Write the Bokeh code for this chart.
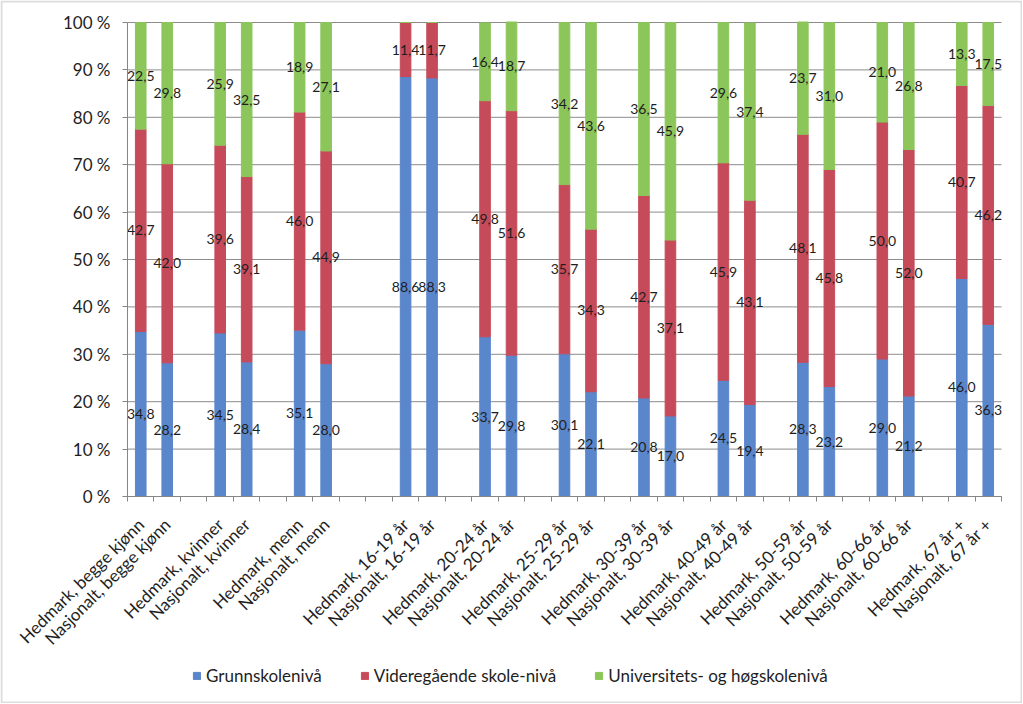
import math
from bokeh.plotting import figure
from bokeh.models import (ColumnDataSource, FixedTicker, Range1d, PrintfTickFormatter,
                          Legend, LegendItem, BoxAnnotation)
from bokeh.core.properties import value
from bokeh.embed import file_html
from bokeh.resources import INLINE

# ---------------- data ----------------
groups = ["begge kjønn", "kvinner", "menn", "16-19 år", "20-24 år", "25-29 år",
          "30-39 år", "40-49 år", "50-59 år", "60-66 år", "67 år +"]
regions = ["Hedmark", "Nasjonalt"]
categories = [f"{r}, {g}" for g in groups for r in regions]

grunnskole = [34.8, 28.2, 34.5, 28.4, 35.1, 28.0, 88.6, 88.3, 33.7, 29.8, 30.1,
              22.1, 20.8, 17.0, 24.5, 19.4, 28.3, 23.2, 29.0, 21.2, 46.0, 36.3]
videregaende = [42.7, 42.0, 39.6, 39.1, 46.0, 44.9, 11.4, 11.7, 49.8, 51.6, 35.7,
                34.3, 42.7, 37.1, 45.9, 43.1, 48.1, 45.8, 50.0, 52.0, 40.7, 46.2]
universitet = [22.5, 29.8, 25.9, 32.5, 18.9, 27.1, 0.0, 0.0, 16.4, 18.7, 34.2,
               43.6, 36.5, 45.9, 29.6, 37.4, 23.7, 31.0, 21.0, 26.8, 13.3, 17.5]
series_names = ["Grunnskolenivå", "Videregående skole-nivå", "Universitets- og høgskolenivå"]
y_ticks = list(range(0, 101, 10))

# ---------------- styling / layout ----------------
colors = ["#5A86CC", "#C64B5A", "#8CC65A"]
FONT = "Lato"
TEXT_COLOR = "#1e1e1e"
AXIS_COLOR = "#868686"
GRID_COLOR = "#8c8c8c"
BORDER_COLOR = "#8a8a8a"
W, H = 1022, 703
# pixel box of the plotting area (0..100 %, first..last slot)
PLOT_LEFT, PLOT_RIGHT, PLOT_TOP, PLOT_BOTTOM = 127, 1001, 22, 496

# slot layout: pairs of bars, one empty slot between groups, two after "menn"
slots = []
s = 0
for g in groups:
    slots += [s, s + 1]
    s += 3 + (1 if g == "menn" else 0)
n_slots = s - 1
x_lo, x_hi = -0.5, n_slots - 0.5

# the frame covers the whole canvas so axis labels and legend are not clipped
slot_px = (PLOT_RIGHT - PLOT_LEFT) / (x_hi - x_lo)
ppu = (PLOT_BOTTOM - PLOT_TOP) / 100.0
x_start, x_end = x_lo - PLOT_LEFT / slot_px, x_hi + (W - PLOT_RIGHT) / slot_px
y_start, y_end = -(H - PLOT_BOTTOM) / ppu, 100 + PLOT_TOP / ppu

source = ColumnDataSource(dict(x=slots, g=grunnskole, v=videregaende, u=universitet))

p = figure(width=W, height=H, output_backend="svg", toolbar_location=None,
           x_range=Range1d(x_start, x_end), y_range=Range1d(y_start, y_end),
           min_border_left=0, min_border_right=0, min_border_top=0, min_border_bottom=0)
p.outline_line_color = None
p.background_fill_color = "white"
p.border_fill_color = "white"
p.xgrid.visible = False
p.ygrid.visible = False

# horizontal gridlines spanning the plotting area only
p.segment(x0=[x_lo] * len(y_ticks), x1=[x_hi] * len(y_ticks), y0=y_ticks, y1=y_ticks,
          line_color=GRID_COLOR, line_width=1)

renderers = p.vbar_stack(["g", "v", "u"], x="x", width=0.4, color=colors, source=source)

# data labels at segment centres
lx, ly, lt = [], [], []
for i, xs in enumerate(slots):
    bottom = 0.0
    for vals in (grunnskole, videregaende, universitet):
        v = vals[i]
        if v > 0:
            lx.append(xs)
            ly.append(bottom + v / 2)
            lt.append(f"{v:.1f}".replace(".", ","))
        bottom += v
p.text(x=lx, y=ly, text=lt, text_font=value(FONT), text_font_size="14px",
       text_color=TEXT_COLOR, text_align="center", text_baseline="middle")

# y axis pinned at the left edge of the slots
p.yaxis.fixed_location = x_lo
p.yaxis.ticker = FixedTicker(ticks=y_ticks)
p.yaxis.bounds = (0, 100)
p.yaxis.formatter = PrintfTickFormatter(format="%d %%")
p.yaxis.axis_line_color = AXIS_COLOR
p.yaxis.major_tick_line_color = AXIS_COLOR
p.yaxis.major_tick_out = 5
p.yaxis.major_tick_in = 0
p.yaxis.minor_tick_line_color = None
p.yaxis.major_label_text_font = FONT
p.yaxis.major_label_text_font_size = "17px"
p.yaxis.major_label_text_color = TEXT_COLOR
p.yaxis.major_label_standoff = 12

# x axis pinned at 0 %
boundaries = [b - 0.5 for b in range(n_slots + 1)]
p.xaxis.fixed_location = 0
p.xaxis.bounds = (x_lo, x_hi)
p.xaxis.ticker = FixedTicker(ticks=slots, minor_ticks=boundaries)
p.xaxis.major_label_overrides = {xs: c for xs, c in zip(slots, categories)}
p.xaxis.major_label_orientation = math.pi / 4
p.xaxis.axis_line_color = AXIS_COLOR
p.xaxis.major_tick_line_color = None
p.xaxis.major_tick_out = 0
p.xaxis.major_tick_in = 0
p.xaxis.minor_tick_line_color = AXIS_COLOR
p.xaxis.minor_tick_out = 5
p.xaxis.minor_tick_in = 0
p.xaxis.major_label_text_font = FONT
p.xaxis.major_label_text_font_size = "17px"
p.xaxis.major_label_text_color = TEXT_COLOR
p.xaxis.major_label_standoff = 20

# legend
leg = Legend(items=[LegendItem(label=n, renderers=[r]) for n, r in zip(series_names, renderers)])
leg.orientation = "horizontal"
leg.location = (192, 17)
leg.glyph_width = 9
leg.glyph_height = 9
leg.label_standoff = 5
leg.spacing = 38
leg.padding = 0
leg.margin = 0
leg.border_line_color = None
leg.background_fill_alpha = 0
leg.label_text_font = FONT
leg.label_text_font_size = "17px"
leg.label_text_color = TEXT_COLOR
p.add_layout(leg, "center")

# chart-area border
border = BoxAnnotation(left=x_start + 1 / slot_px, right=x_end - 1 / slot_px,
                       bottom=y_start + 1 / ppu, top=y_end - 1 / ppu,
                       fill_alpha=0, line_color=BORDER_COLOR, line_width=2)
p.add_layout(border)

open("out.html", "w").write(file_html(p, INLINE))
